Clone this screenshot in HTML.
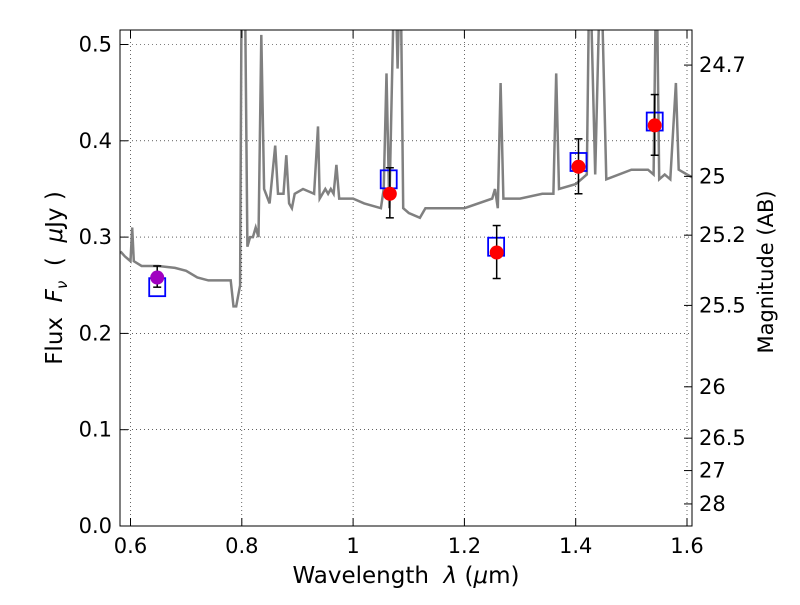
<!DOCTYPE html>
<html><head><meta charset="utf-8"><style>
body{margin:0;background:#fff;}
svg{font-family:"DejaVu Sans","Liberation Sans",sans-serif;}
</style></head><body>
<svg id="chart" width="800" height="600" xmlns="http://www.w3.org/2000/svg">
<defs><clipPath id="clip"><rect x="120" y="30" width="572" height="496"/></clipPath></defs>
<rect x="0" y="0" width="800" height="600" fill="#fff"/>
<g id="grid"></g>
<g id="spec" clip-path="url(#clip)"></g>
<g id="marks"></g>
<rect x="120" y="30" width="572" height="496" fill="none" stroke="#000" stroke-width="1"/>
<g id="axes"></g>
<text x="406" y="583" font-size="23" text-anchor="middle" xml:space="preserve">Wavelength  <tspan font-style="italic">λ</tspan> (<tspan font-style="italic">μ</tspan>m)</text>
<text transform="translate(62,278) rotate(-90)" font-size="23" text-anchor="middle" xml:space="preserve">Flux  <tspan font-style="italic">F</tspan><tspan font-style="italic" font-size="15" dy="5">ν</tspan><tspan dy="-5">  (  </tspan><tspan font-style="italic">μ</tspan>Jy )</text>
<text transform="translate(773,272) rotate(-90)" font-size="21" text-anchor="middle">Magnitude (AB)</text>
</svg>
<script>
const xTicks=[0.6,0.8,1.0,1.2,1.4,1.6];
const xTickLabels=["0.6","0.8","1","1.2","1.4","1.6"];
const yTicks=[0,0.1,0.2,0.3,0.4,0.5];
const yTickLabels=["0.0","0.1","0.2","0.3","0.4","0.5"];
const magTicks=[24.7,25,25.2,25.5,26,26.5,27,28];
const magLabels=["24.7","25","25.2","25.5","26","26.5","27","28"];
const specWave=[0.582,0.59,0.6,0.603,0.606,0.62,0.65,0.68,0.7,0.72,0.74,0.76,0.78,0.785,0.79,0.797,0.8,0.805,0.81,0.815,0.82,0.825,0.83,0.835,0.84,0.85,0.86,0.865,0.875,0.88,0.885,0.89,0.895,0.91,0.93,0.937,0.94,0.95,0.955,0.96,0.965,0.97,0.975,1.0,1.02,1.05,1.055,1.06,1.065,1.075,1.08,1.085,1.09,1.1,1.12,1.13,1.15,1.2,1.25,1.255,1.26,1.265,1.27,1.3,1.34,1.36,1.365,1.37,1.4,1.41,1.42,1.425,1.435,1.445,1.455,1.5,1.53,1.54,1.545,1.55,1.56,1.57,1.58,1.585,1.6,1.616];
const specFlux=[0.285,0.28,0.275,0.31,0.275,0.27,0.27,0.268,0.265,0.258,0.255,0.255,0.255,0.228,0.228,0.25,0.6,0.6,0.29,0.3,0.3,0.31,0.3,0.51,0.35,0.335,0.395,0.345,0.345,0.385,0.335,0.33,0.345,0.35,0.345,0.415,0.34,0.35,0.345,0.35,0.345,0.375,0.34,0.34,0.335,0.33,0.35,0.47,0.33,0.6,0.475,0.6,0.33,0.325,0.32,0.33,0.33,0.33,0.34,0.35,0.33,0.46,0.34,0.34,0.345,0.345,0.47,0.35,0.355,0.36,0.365,0.6,0.365,0.6,0.36,0.37,0.37,0.365,0.6,0.36,0.365,0.36,0.46,0.37,0.365,0.36];
const obsWave=[0.648,1.066,1.258,1.405,1.542];
const obsFlux=[0.258,0.345,0.284,0.373,0.416];
const errLow=[0.248,0.32,0.257,0.345,0.385];
const errHigh=[0.27,0.372,0.312,0.402,0.448];
const obsColor=["#a000c0","red","red","red","red"];
const modelWave=[0.648,1.064,1.257,1.405,1.542];
const modelFlux=[0.248,0.36,0.29,0.378,0.42];

const X=w=>130.5+(w-0.6)*556.5;
const Y=f=>526-f*963;
const magY=m=>Y(Math.pow(10,(23.9-m)/2.5));
const NS="http://www.w3.org/2000/svg";
function mk(p,t,a){const e=document.createElementNS(NS,t);for(const k in a)e.setAttribute(k,a[k]);p.appendChild(e);return e;}
const grid=document.getElementById('grid'),axes=document.getElementById('axes');
xTicks.forEach((v,i)=>{
 const g=mk(grid,'line',{x1:X(v),x2:X(v),y1:30,y2:526,stroke:'#000','stroke-dasharray':'1,3','stroke-width':0.6});
 
 
 mk(axes,'line',{x1:X(v),x2:X(v),y1:526,y2:518,stroke:'#000'});
 mk(axes,'line',{x1:X(v),x2:X(v),y1:30,y2:38,stroke:'#000'});
 const t=mk(axes,'text',{x:X(v),y:553,'font-size':21,'text-anchor':'middle'});t.textContent=xTickLabels[i];
 
 
});
yTicks.forEach((v,i)=>{
 const g=mk(grid,'line',{x1:120,x2:692,y1:Y(v),y2:Y(v),stroke:'#000','stroke-dasharray':'1,3','stroke-width':0.6});
 
 
 mk(axes,'line',{x1:120,x2:128,y1:Y(v),y2:Y(v),stroke:'#000'});
 const t=mk(axes,'text',{x:112,y:Y(v)+7,'font-size':21,'text-anchor':'end'});t.textContent=yTickLabels[i];
 
 
});
magTicks.forEach((m,i)=>{
 const y=magY(m);
 mk(axes,'line',{x1:684,x2:692,y1:y,y2:y,stroke:'#000'});
 const t=mk(axes,'text',{x:699,y:y+7,'font-size':21});t.textContent=magLabels[i];
 
 
});
const pts=specWave.map((w,i)=>X(w).toFixed(1)+','+Y(specFlux[i]).toFixed(1)).join(' ');
const pl=mk(document.getElementById('spec'),'polyline',{points:pts,fill:'none',stroke:'#808080','stroke-width':2.5});


const marks=document.getElementById('marks');
modelWave.forEach((w,i)=>{
 const r=mk(marks,'rect',{x:X(w)-8,y:Y(modelFlux[i])-9,width:16,height:18,fill:'none',stroke:'blue','stroke-width':1.8});
 
 
});
obsWave.forEach((w,i)=>{
 const x=X(w);
 mk(marks,'line',{x1:x,x2:x,y1:Y(errLow[i]),y2:Y(errHigh[i]),stroke:'#000','stroke-width':1.5});
 mk(marks,'line',{x1:x-4,x2:x+4,y1:Y(errLow[i]),y2:Y(errLow[i]),stroke:'#000','stroke-width':1.5});
 mk(marks,'line',{x1:x-4,x2:x+4,y1:Y(errHigh[i]),y2:Y(errHigh[i]),stroke:'#000','stroke-width':1.5});
 const c=mk(marks,'circle',{cx:x,cy:Y(obsFlux[i]),r:7,fill:obsColor[i]});
 
 
});
</script>
</body></html>
